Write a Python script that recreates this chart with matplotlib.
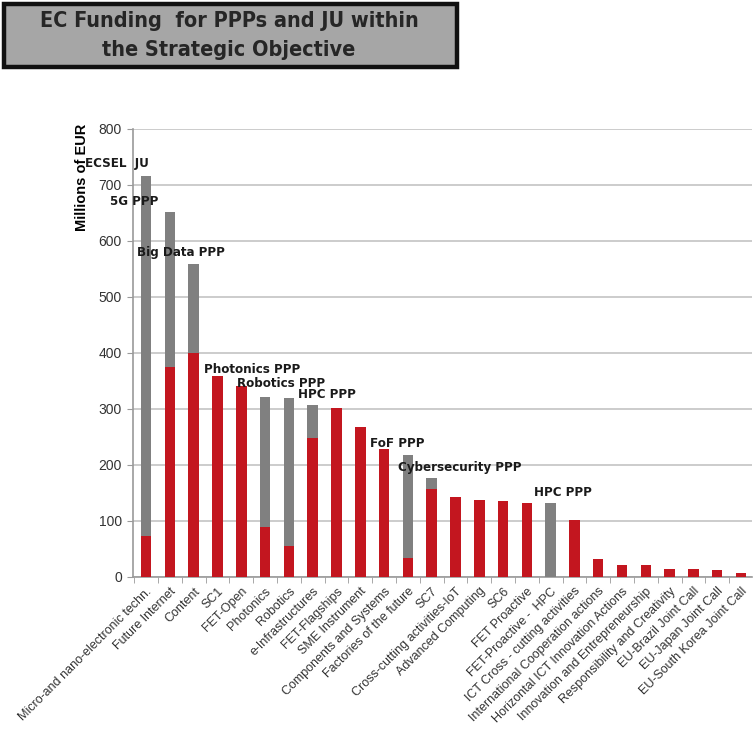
import matplotlib

matplotlib.use("Agg")
import matplotlib.pyplot as plt
from matplotlib.patches import Rectangle
from matplotlib.ticker import FixedLocator, MultipleLocator

NARROW = ["DejaVu Sans"]
plt.rcParams["font.family"] = ["Liberation Sans", "DejaVu Sans"]

RED = "#C3161F"
GREY = "#808080"

categories = [
    "Micro-and nano-electronic techn.", "Future Internet", "Content", "SC1",
    "FET-Open", "Photonics", "Robotics", "e-Infrastructures", "FET-Flagships",
    "SME Instrument", "Components and Systems", "Factories of the future",
    "SC7", "Cross-cutting activities-IoT", "Advanced Computing", "SC6",
    "FET Proactive", "FET-Proactive -  HPC", "ICT Cross - cutting activities",
    "International Cooperation actions", "Horizontal ICT Innovation Actions",
    "Innovation and Entrepreneurship", "Responsibility and Creativity",
    "EU-Brazil Joint Call", "EU-Japan Joint Call", "EU-South Korea Joint Call",
]
# EC funding (red) and PPP/JU funding (grey, stacked on top), millions of EUR
ec_funding = [73, 375, 400, 359, 341, 89, 55, 249, 302, 268, 228, 34,
              157, 143, 138, 136, 133, 0, 102, 33, 21, 21, 15, 15, 13, 6.5]
ppp_funding = [643, 277, 159, 0, 0, 232, 265, 58, 0, 0, 0, 183,
               20, 0, 0, 0, 0, 133, 0, 0, 0, 0, 0, 0, 0, 0]

# (label, x in category units, y in millions)
ppp_labels = [
    ("ECSEL  JU", -2.55, 739), ("5G PPP", -1.5, 670),
    ("Big Data PPP", -0.38, 580), ("Photonics PPP", 2.45, 370),
    ("Robotics PPP", 3.8, 346), ("HPC PPP", 6.4, 325),
    ("FoF PPP", 9.4, 239), ("Cybersecurity PPP", 10.6, 195),
    ("HPC PPP", 16.3, 150),
]

fig = plt.figure(figsize=(7.53, 7.31), dpi=100)
fig.patch.set_facecolor("white")

# title box
fig.patches.append(Rectangle((4 / 753, 1 - 67 / 731), 453 / 753, 63 / 731,
                             transform=fig.transFigure, facecolor="#A6A6A6",
                             edgecolor="#111111", linewidth=3.2, zorder=0))
fig.text(229 / 753, 1 - 21 / 731, "EC Funding  for PPPs and JU within",
         ha="center", va="center", fontsize=15.5, fontweight="bold",
         family=NARROW, fontstretch="condensed", color="#262626")
fig.text(229 / 753, 1 - 50 / 731, "the Strategic Objective",
         ha="center", va="center", fontsize=15.5, fontweight="bold",
         family=NARROW, fontstretch="condensed", color="#262626")

ax = fig.add_axes([133 / 753, 154 / 731, 619 / 753, 448 / 731])
x = list(range(len(categories)))
ax.bar(x, ec_funding, width=0.44, color=RED, zorder=3)
ax.bar(x, ppp_funding, bottom=ec_funding, width=0.44, color=GREY, zorder=3)

ax.set_xlim(-0.55, 25.46)
ax.set_ylim(0, 800)
ax.yaxis.set_major_locator(MultipleLocator(100))
ax.grid(axis="y", color="#C8C8C8", linewidth=1.3, zorder=0)
ax.set_axisbelow(True)

for s in ["top", "right"]:
    ax.spines[s].set_visible(False)
for s in ["left", "bottom"]:
    ax.spines[s].set_color("#9A9A9A")
    ax.spines[s].set_linewidth(1.2)

ax.set_xticks(x)
ax.set_xticklabels(categories, rotation=45, ha="right",
                   rotation_mode="anchor", fontsize=9, color="#333333")
ax.tick_params(axis="x", which="major", length=0, pad=6)
ax.xaxis.set_minor_locator(FixedLocator([i + 0.5 for i in range(-1, 26)]))
ax.tick_params(axis="x", which="minor", length=4, color="#9A9A9A")
ax.tick_params(axis="y", length=4, color="#9A9A9A", labelsize=10,
               labelcolor="#333333", pad=4)

ax.set_ylabel("Millions of EUR", fontsize=10.5, fontweight="bold")
ax.yaxis.set_label_coords(-0.071, 0.893)

for text, tx, ty in ppp_labels:
    ax.text(tx, ty, text, ha="left", va="center", fontsize=9.5,
            fontweight="bold", family=NARROW, fontstretch="condensed",
            color="#1A1A1A", zorder=5, clip_on=False)

fig.savefig("out.png", dpi=100)
